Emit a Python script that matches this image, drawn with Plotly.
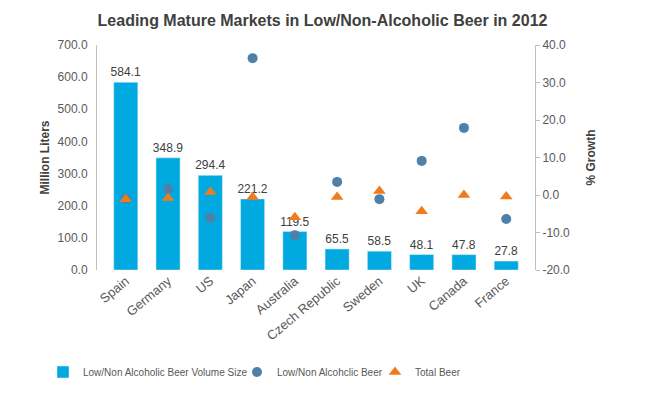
import plotly.graph_objects as go

countries = ["Spain", "Germany", "US", "Japan", "Australia", "Czech Republic",
             "Sweden", "UK", "Canada", "France"]
volume = [584.1, 348.9, 294.4, 221.2, 119.5, 65.5, 58.5, 48.1, 47.8, 27.8]
volume_labels = ["584.1", "348.9", "294.4", "221.2", "119.5", "65.5", "58.5", "48.1", "47.8", "27.8"]
low_non_growth = [-1.0, 1.6, -6.1, 36.5, -10.7, 3.5, -1.1, 9.1, 17.9, -6.4]
total_growth = [-1.1, -0.8, 0.8, -0.5, -5.9, -0.5, 1.1, -4.3, 0.0, -0.4]

left_ticks = [0, 100, 200, 300, 400, 500, 600, 700]
right_ticks = [-20, -10, 0, 10, 20, 30, 40]

FONT = "Liberation Sans"
GRAY = "#595959"

L, R, T, B = 97, 110, 45, 123
W, H = 645, 393
PW = W - L - R
PH = H - T - B


def px_to_paper_x(px):
    return (px - L) / PW


def px_to_paper_y(py):
    return (H - B - py) / PH


fig = go.Figure()
fig.add_trace(go.Bar(
    x=countries, y=volume, name="Low/Non Alcoholic Beer Volume Size",
    marker=dict(color="#00a9e0"), text=volume_labels, textposition="outside",
    constraintext="none", legend="legend",
    textfont=dict(family=FONT, size=12, color="#404040"), cliponaxis=False,
))
fig.add_trace(go.Scatter(
    x=countries, y=low_non_growth, name="Low/Non Alcohclic Beer", mode="markers",
    marker=dict(symbol="circle", size=10, color="#4f81a8"), yaxis="y2", cliponaxis=False,
    legend="legend2",
))
fig.add_trace(go.Scatter(
    x=countries, y=total_growth, name="Total Beer", mode="markers",
    marker=dict(symbol="triangle-up", size=11, color="#f07b1c"), yaxis="y2", cliponaxis=False,
    legend="legend3",
))

legend_common = dict(orientation="h", xanchor="left", xref="paper", yanchor="middle",
                     yref="paper", y=px_to_paper_y(372), itemwidth=30,
                     font=dict(family=FONT, size=10, color=GRAY),
                     bgcolor="rgba(0,0,0,0)")

fig.update_layout(
    width=W, height=H,
    margin=dict(l=L, r=R, t=T, b=B, autoexpand=False),
    paper_bgcolor="white", plot_bgcolor="white",
    font=dict(family=FONT, size=12, color=GRAY),
    title=dict(text="<b>Leading Mature Markets in Low/Non-Alcoholic Beer in 2012</b>",
               x=0.5, xanchor="center", y=1 - 20 / H, yanchor="middle", xref="container",
               font=dict(family=FONT, size=16, color="#404040")),
    bargap=0.43,
    showlegend=True,
    legend=dict(legend_common, x=px_to_paper_x(43)),
    legend2=dict(legend_common, x=px_to_paper_x(237)),
    legend3=dict(legend_common, x=px_to_paper_x(375)),
    xaxis=dict(tickangle=-40, showline=False, ticks="", showgrid=False, automargin=False,
               tickfont=dict(family=FONT, size=13, color=GRAY)),
    yaxis=dict(range=[0, 700], tickvals=left_ticks,
               ticktext=[f"{v:.1f}" for v in left_ticks], automargin=False,
               showgrid=False, zeroline=False, showline=True, linecolor="#bfbfbf",
               linewidth=1, ticks="", ticklabelstandoff=6,
               title=dict(text="<b>Million Liters</b>", font=dict(family=FONT, size=12, color="#404040"),
                          standoff=5),
               tickfont=dict(family=FONT, size=12, color=GRAY)),
    yaxis2=dict(range=[-20, 40], tickvals=right_ticks,
                ticktext=[f"{v:.1f}" for v in right_ticks], automargin=False,
                overlaying="y", side="right", showgrid=False, zeroline=False,
                showline=True, linecolor="#bfbfbf", linewidth=1, ticks="outside",
                ticklen=4, tickcolor="#bfbfbf",
                title=dict(text="<b>% Growth</b>", font=dict(family=FONT, size=12, color="#404040"),
                           standoff=17),
                tickfont=dict(family=FONT, size=12, color=GRAY)),
)

fig.write_html("out.html", config={"displayModeBar": False},
               post_script="document.body.style.margin='0px';")
